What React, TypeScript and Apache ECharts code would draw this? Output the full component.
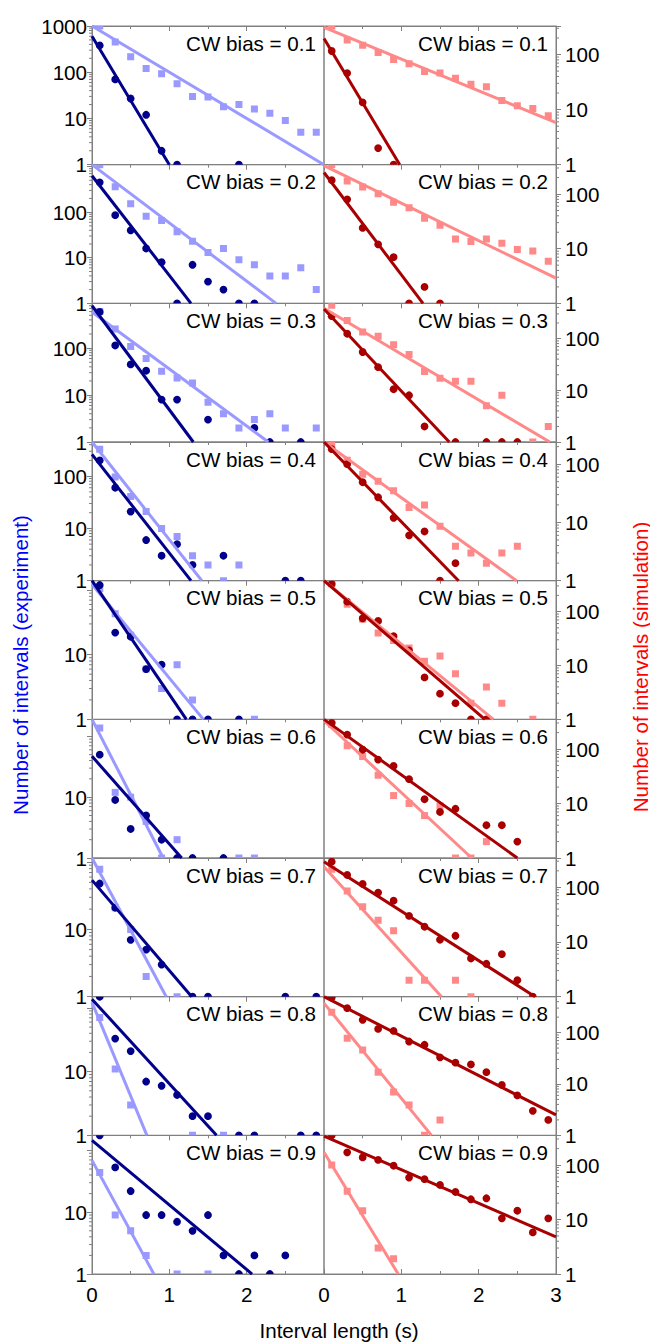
import React, { useEffect, useRef } from "react";
import * as echarts from "echarts";

// ---------- data ----------
const X_BINS = [0.1, 0.3, 0.5, 0.7, 0.9, 1.1, 1.3, 1.5, 1.7, 1.9, 2.1, 2.3, 2.5, 2.7, 2.9];
const CW_BIAS = ["0.1", "0.2", "0.3", "0.4", "0.5", "0.6", "0.7", "0.8", "0.9"];

const EXP_MAX = [1000, 1100, 900, 450, 140, 190, 115, 150, 175];
const SIM_MAX = [330, 345, 480, 240, 375, 350, 343, 500, 350];
const EXP_LABELS = [
  [1, 10, 100, 1000], [1, 10, 100], [1, 10, 100], [1, 10, 100],
  [1, 10], [1, 10], [1, 10], [1, 10], [1, 10],
];
const SIM_LABELS = [1, 10, 100];
const X_LABELS_LEFT = [0, 1, 2];
const X_LABELS_RIGHT = [0, 1, 2, 3];

const _ = null;
// experiment, dark (circles)
const EXP_DARK = [
  [380, 70, 27, 12, 2, 1, _, _, _, 1, _, _, _, _, _],
  [450, 86, 40, 16, 8, 1, 7, 3, 2, 1, 1, _, _, _, _],
  [590, 114, 45, 33, 8, 8, _, 3, _, _, 2, 1, _, 1, _],
  [200, 60, 21, 6, 3, 5, 2, _, 3, _, _, _, 1, 1, _],
  [120, 22, 19, 6, 7, 1, 1, 1, _, 1, _, _, _, _, _],
  [50, 9, 3, 5, 2, 1, 1, _, 1, _, _, _, _, _, _],
  [48, 21, 7, 5, 3, _, 1, 1, _, _, _, _, 1, _, 1],
  [150, 33, 21, 7, 6, 4.3, 2, 2, _, 1, 1, _, _, 1, 1],
  [175, 53, 22, 9, 9, 7, 5, 9, 2, 1, 2, 1, 2, _, _],
];
// experiment, light (squares)
const EXP_LIGHT = [
  [1000, 450, 215, 120, 93, 56, 30, 29, 18, 20, 16, 13, 9, 5, 5],
  [1100, 360, 153, 81, 66, 37, 23, 13, 16, 9, 7, 4, 4, 6, 2],
  [600, 255, 108, 60, 32, 23, 18, 7, 4, 2, 3, 4, 2, _, 2],
  [326, 96, 41, 21, 10, 7, 3, 2, 1, 2, _, _, _, _, _],
  [105, 43, 20, 6, 3, 7, 2, _, _, _, 1, _, _, _, _],
  [137, 12, 10, 4, 1, 2, _, _, _, 1, 1, _, _, _, _],
  [78, 21, 10, 2, _, 1, _, _, _, _, _, _, _, _, _],
  [71, 11, 3, _, _, _, 1, _, 1, _, _, _, _, _, _],
  [44, 9, 5, 2, _, 1, _, 1, _, _, _, _, _, _, _],
];
// simulation, dark (circles)
const SIM_DARK = [
  [116, 46, 13.5, 2, 1, _, _, _, _, _, _, _, _, _, _],
  [179, 80, 24, 12, 7, 1, 2, 1, _, _, _, _, _, _, _],
  [271, 124, 55, 28, 10.5, 8, 2, _, 1, _, 1, 1, 1, _, _],
  [181, 100, 49, 27, 12, 6, 7, 1, 2, _, _, _, _, _, _],
  [327, 153, 75, 67, 35, 19, 6, 3, 2, 1, 1, _, _, _, _],
  [303, 184, 97, 64, 49, 28, 12, 7, 8, _, 4, 4, 2, _, _],
  [294, 168, 115, 80, 57, 30, 19, 11, 13, 5, 4, 6, 2, 1, _],
  [480, 299, 177, 118, 108, 67, 58, 33, 26, 24, 17, 9.6, 6, 3, 2],
  [350, 171, 138, 124, 97, 59, 55, 43, 32, 23.5, 24.5, 10.5, 14.5, 5.8, 10.5],
];
// simulation, light (squares)
const SIM_LIGHT = [
  [330, 183, 148, 109, 81, 68, 49, 46, 37, 29, 26, 14.6, 11.8, 10.5, 7.7],
  [345, 174, 135, 101, 71, 56, 36, 27, 15, 13.5, 15, 12.6, 9.7, 9.1, 5.9],
  [440, 224, 134, 111, 76, 49, 23, 17, 15, 15, 5, 8, _, 1, 2],
  [215, 117, 67, 51, 35, 18, 20, 8.6, 3.9, 3, 2, 3, 3.9, _, _],
  [330, 137, 72, 40, 29, 21, 12, 15, 7, 2, 4, 2, _, 1, _],
  [281, 115, 73, 33, 14, 10, 6, 9, 1, 1, 2, _, _, _, _],
  [213, 86, 44, 25, 16, 2, 2, _, 2, 1, _, _, _, _, _],
  [250, 78, 46, 17, 7, 3.9, 1, 2, _, _, _, _, _, _, _],
  [100, 33, 14.5, 3, 1.9, _, _, _, _, _, _, _, _, _, _],
];
// exponential fits: two end points [[x, y], [x, y]]
const EXP_DARK_FIT = [
  [[0, 600], [1.0, 1]], [[0, 630], [1.28, 1]], [[0, 800], [1.31, 1]],
  [[0, 261], [1.28, 1]], [[0, 140], [1.22, 1]], [[0, 47], [1.16, 1]],
  [[0, 54], [1.29, 1]], [[0, 137], [1.61, 1]], [[0, 145], [2.07, 1]],
];
const EXP_LIGHT_FIT = [
  [[0, 1000], [3, 1]], [[0, 1100], [2.38, 1]], [[0, 590], [2.28, 1]],
  [[0, 450], [1.42, 1]], [[0, 123], [1.44, 1]], [[0, 190], [0.92, 1]],
  [[0, 115], [0.96, 1]], [[0, 122], [0.71, 1]], [[0, 69], [0.8, 1]],
];
const SIM_DARK_FIT = [
  [[0, 196], [0.98, 1]], [[0, 248], [1.28, 1]], [[0, 374], [1.62, 1]],
  [[0, 240], [1.74, 1]], [[0, 375], [2.08, 1]], [[0, 350], [2.5, 1]],
  [[0, 294], [2.73, 1]], [[0, 500], [3, 2.5]], [[0, 340], [3, 4.8]],
];
const SIM_LIGHT_FIT = [
  [[0, 312], [3, 5.8]], [[0, 330], [3, 2.9]], [[0, 386], [2.92, 1]],
  [[0, 240], [2.49, 1]], [[0, 375], [2.19, 1]], [[0, 330], [1.91, 1]],
  [[0, 238], [1.52, 1]], [[0, 374], [1.39, 1]], [[0, 171], [0.96, 1]],
];
const MINOR_MANTISSA = [2, 3, 4, 5, 6, 7, 8, 9];
const DECADES = [1, 10, 100, 1000];

// ---------- styling / layout ----------
const W = 650;
const H = 1343;
const FONT = "'Liberation Sans', Arial, Helvetica, sans-serif";
const FS = 20.6;
const AX = "#808080";
const DARK_BLUE = "#00008b";
const LIGHT_BLUE = "#9999ff";
const DARK_RED = "#a80000";
const LIGHT_RED = "#ff8888";
const ROW_TOP = 26;
const ROW_H = 138.67;
const LEFT_X = 92;
const RIGHT_X = 324;
const PANEL_W = 232;

function pts(vals: (number | null)[]) {
  const out: number[][] = [];
  vals.forEach((v, i) => {
    if (v != null) out.push([X_BINS[i], v]);
  });
  return out;
}

function buildOption() {
  const grid: any[] = [];
  const xAxis: any[] = [];
  const yAxis: any[] = [];
  const series: any[] = [];
  const graphic: any[] = [];

  for (let r = 0; r < 9; r++) {
    for (let side = 0; side < 2; side++) {
      const gi = r * 2 + side;
      const left = side ? RIGHT_X : LEFT_X;
      const top = ROW_TOP + r * ROW_H;
      const last = r === 8;
      const ymax = side ? SIM_MAX[r] : EXP_MAX[r];
      const labels = side ? SIM_LABELS : EXP_LABELS[r];
      const xl = side ? X_LABELS_RIGHT : X_LABELS_LEFT;

      grid.push({
        left, top, width: PANEL_W, height: ROW_H,
        show: true, borderColor: AX, borderWidth: 1, backgroundColor: "transparent",
      });

      // bottom x axis
      xAxis.push({
        type: "value", gridIndex: gi, min: 0, max: 3, interval: 1, position: "bottom",
        axisLine: { show: true, onZero: false, lineStyle: { color: AX, width: 1 } },
        axisTick: { show: last, inside: true, length: 5, lineStyle: { color: AX } },
        minorTick: { show: last, splitNumber: 2, length: 3, lineStyle: { color: AX } },
        axisLabel: {
          show: last, fontSize: FS, color: "#000", fontFamily: FONT, margin: 10,
          formatter: (v: number) => (xl.includes(Math.round(v)) ? String(Math.round(v)) : ""),
        },
        splitLine: { show: false }, minorSplitLine: { show: false },
      });
      // top x axis (ticks only)
      xAxis.push({
        type: "value", gridIndex: gi, min: 0, max: 3, interval: 1, position: "top",
        axisLine: { show: true, onZero: false, lineStyle: { color: AX, width: 1 } },
        axisTick: { show: true, inside: true, length: 5, lineStyle: { color: AX } },
        minorTick: { show: true, splitNumber: 2, length: 3, lineStyle: { color: AX } },
        axisLabel: { show: false },
        splitLine: { show: false }, minorSplitLine: { show: false },
      });

      yAxis.push({
        type: "log", logBase: 10, gridIndex: gi, min: 1, max: ymax,
        position: side ? "right" : "left",
        axisLine: { show: true, onZero: false, lineStyle: { color: AX, width: 1 } },
        axisTick: { show: true, inside: false, length: 5, lineStyle: { color: AX } },
        axisLabel: {
          fontSize: FS, color: "#000", fontFamily: FONT, margin: side ? 9 : 5,
          formatter: (v: number) => {
            const n = Math.round(v);
            return labels.includes(n) && Math.abs(v - n) < 1e-6 ? String(n) : "";
          },
        },
        splitLine: { show: false },
      });

      const xb = gi * 2;
      const lightColor = side ? LIGHT_RED : LIGHT_BLUE;
      const darkColor = side ? DARK_RED : DARK_BLUE;
      const lightFit = side ? SIM_LIGHT_FIT[r] : EXP_LIGHT_FIT[r];
      const darkFit = side ? SIM_DARK_FIT[r] : EXP_DARK_FIT[r];
      const lightPts = pts(side ? SIM_LIGHT[r] : EXP_LIGHT[r]);
      const darkPts = pts(side ? SIM_DARK[r] : EXP_DARK[r]);

      // minor log ticks on the outer y axis
      const edgeX = side ? 3 : 0;
      const minorVals: number[][] = [];
      DECADES.forEach((d) =>
        MINOR_MANTISSA.forEach((m) => {
          if (m * d < ymax) minorVals.push([edgeX, m * d]);
        })
      );
      series.push({
        type: "custom", xAxisIndex: xb, yAxisIndex: gi, silent: true, clip: false,
        encode: { x: 0, y: 1 }, data: minorVals,
        renderItem: (params: any, api: any) => {
          const p = api.coord([api.value(0), api.value(1)]);
          const dir = side ? 1 : -1;
          return {
            type: "line",
            shape: { x1: p[0], y1: p[1], x2: p[0] + dir * 3, y2: p[1] },
            style: { stroke: AX, lineWidth: 1 },
          };
        },
      });

      series.push({
        type: "line", xAxisIndex: xb, yAxisIndex: gi, data: lightFit,
        symbol: "none", showSymbol: false, clip: true, silent: true,
        lineStyle: { color: lightColor, width: 3 },
      });
      series.push({
        type: "custom", xAxisIndex: xb, yAxisIndex: gi, silent: true, clip: true,
        encode: { x: 0, y: 1 }, data: lightPts,
        renderItem: (params: any, api: any) => {
          const p = api.coord([api.value(0), api.value(1)]);
          const s = 7;
          return {
            type: "rect",
            shape: { x: p[0] - s / 2, y: p[1] - s / 2, width: s, height: s },
            style: { fill: lightColor },
          };
        },
      });
      series.push({
        type: "line", xAxisIndex: xb, yAxisIndex: gi, data: darkFit,
        symbol: "none", showSymbol: false, clip: true, silent: true,
        lineStyle: { color: darkColor, width: 3 },
      });
      series.push({
        type: "custom", xAxisIndex: xb, yAxisIndex: gi, silent: true, clip: true,
        encode: { x: 0, y: 1 }, data: darkPts,
        renderItem: (params: any, api: any) => {
          const p = api.coord([api.value(0), api.value(1)]);
          return {
            type: "circle",
            shape: { cx: p[0], cy: p[1], r: 3.9 },
            style: { fill: darkColor },
          };
        },
      });

      graphic.push({
        type: "text",
        x: left + PANEL_W - 8,
        y: top + 17,
        silent: true,
        style: {
          text: "CW bias = " + CW_BIAS[r],
          fontSize: FS, fontFamily: FONT, fill: "#000",
          align: "right", verticalAlign: "middle",
        },
      });
    }
  }

  graphic.push({
    type: "text", x: 20, y: 665, rotation: Math.PI / 2, silent: true,
    style: {
      text: "Number of intervals (experiment)", fontSize: FS, fontFamily: FONT,
      fill: "#0000ff", align: "center", verticalAlign: "middle",
    },
  });
  graphic.push({
    type: "text", x: 640, y: 667, rotation: Math.PI / 2, silent: true,
    style: {
      text: "Number of intervals (simulation)", fontSize: FS, fontFamily: FONT,
      fill: "#ff0000", align: "center", verticalAlign: "middle",
    },
  });
  graphic.push({
    type: "text", x: 339, y: 1330, silent: true,
    style: {
      text: "Interval length (s)", fontSize: FS, fontFamily: FONT,
      fill: "#000", align: "center", verticalAlign: "middle",
    },
  });

  return {
    animation: false,
    backgroundColor: "#ffffff",
    grid, xAxis, yAxis, series, graphic,
  };
}

export default function App() {
  const ref = useRef<HTMLDivElement>(null);
  useEffect(() => {
    if (!ref.current) return;
    const chart = echarts.init(ref.current, null, { renderer: "svg" });
    chart.setOption(buildOption() as any);
    return () => chart.dispose();
  }, []);
  return (
    <div
      ref={ref}
      style={{ position: "absolute", left: 0, top: 0, width: W, height: H }}
    />
  );
}
